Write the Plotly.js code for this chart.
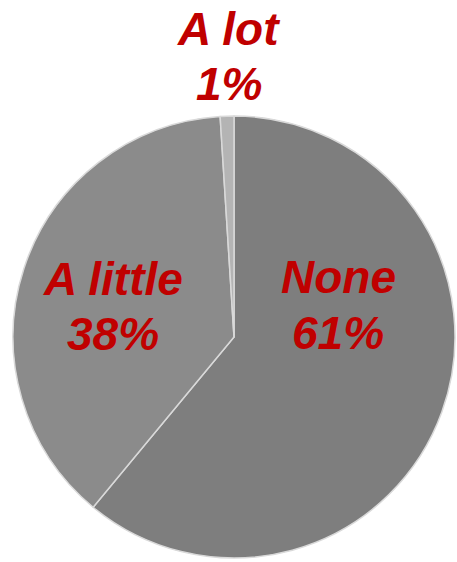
<!DOCTYPE html>
<html>
<head>
<meta charset="utf-8">
<script src="https://cdn.plot.ly/plotly-3.0.1.min.js"></script>
<style>html,body{margin:0;padding:0;background:#fff;}#chart{width:457px;height:562px;}</style>
</head>
<body>
<div id="chart"></div>
<script>
const labels = ["None", "A little", "A lot"];
const values = [61, 38, 1];
const sliceColors = ["#7e7e7e", "#8b8b8b", "#b4b4b4"];

// label anchor positions (paper coords): x, and y of the name line and percent line
const labelX = [0.74, 0.247, 0.501];
const nameY = [0.5071, 0.5036, 0.9484];
const pctY = [0.4075, 0.4057, 0.8505];

const total = values.reduce((a, b) => a + b, 0);
const font = {family: "Liberation Sans, Arial, sans-serif", size: 46, color: "#c00000"};
const annotations = [];
labels.forEach((l, i) => {
  annotations.push({
    xref: "paper", yref: "paper", x: labelX[i], y: nameY[i],
    xanchor: "center", yanchor: "middle", showarrow: false,
    text: "<b><i>" + l + "</i></b>", font: font
  });
  annotations.push({
    xref: "paper", yref: "paper", x: labelX[i], y: pctY[i],
    xanchor: "center", yanchor: "middle", showarrow: false,
    text: "<b><i>" + Math.round(values[i] / total * 100) + "%</i></b>", font: font
  });
});

const data = [{
  type: "pie",
  labels: labels,
  values: values,
  sort: false,
  direction: "clockwise",
  rotation: 0,
  textinfo: "none",
  hoverinfo: "none",
  marker: {colors: sliceColors, line: {color: "#d9d9d9", width: 1.5}},
  domain: {x: [0.0285, 0.9956], y: [0.0071, 0.7936]}
}];

const layout = {
  width: 457, height: 562,
  margin: {l: 0, r: 0, t: 0, b: 0},
  paper_bgcolor: "#ffffff",
  showlegend: false,
  annotations: annotations
};

Plotly.newPlot("chart", data, layout, {staticPlot: true});
</script>
</body>
</html>
